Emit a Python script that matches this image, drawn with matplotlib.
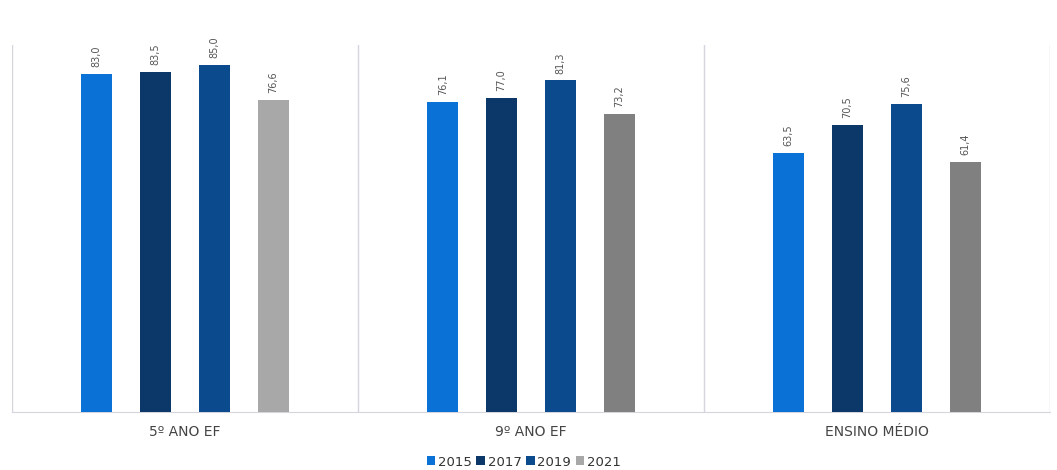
import numpy as np
import matplotlib.pyplot as plt

categories = ["5º ANO EF", "9º ANO EF", "ENSINO MÉDIO"]
years = ["2015", "2017", "2019", "2021"]
v2015 = [83.0, 76.1, 63.5]
v2017 = [83.5, 77.0, 70.5]
v2019 = [85.0, 81.3, 75.6]
v2021 = [76.6, 73.2, 61.4]
series = [v2015, v2017, v2019, v2021]

colors = ["#0a72d6", "#0b3868", "#0c4a8e", "#808080"]
gray_first = "#a8a8a8"

fig = plt.figure(figsize=(10.57, 4.70), dpi=100)
ax = fig.add_axes([12 / 1057, 58 / 470, 1038 / 1057, 367 / 470])

x = np.arange(len(categories))
width = 0.09
offsets = np.array([-1.5, -0.5, 0.5, 1.5]) * 0.17

for i, vals in enumerate(series):
    cols = [colors[i]] * len(vals)
    if i == 3:
        cols[0] = gray_first
    bars = ax.bar(x + offsets[i], vals, width, color=cols, label=years[i], zorder=3)
    for b, v in zip(bars, vals):
        ax.annotate(f"{v:.1f}".replace(".", ","),
                    (b.get_x() + b.get_width() / 2, v),
                    xytext=(0, 5), textcoords="offset points",
                    rotation=90, ha="center", va="bottom",
                    fontsize=7, color="#555555")

ax.set_xlim(-0.5, 2.5)
ax.set_ylim(0, 90)
ax.set_yticks([])
ax.set_xticks(x)
ax.set_xticklabels(categories, fontsize=10, color="#444444")
ax.tick_params(axis="x", length=0, pad=9)
for s in ["top", "right", "left"]:
    ax.spines[s].set_visible(False)
ax.spines["bottom"].set_color("#d5d5de")
for xb in [-0.5, 0.5, 1.5, 2.5]:
    ax.axvline(xb, color="#d5d5de", lw=1, zorder=1)

ax.legend(loc="center", bbox_to_anchor=(0.493, -50 / 367), ncol=4,
          frameon=False, fontsize=9.5, handlelength=0.65, handleheight=0.65,
          handletextpad=0.2, columnspacing=0.35, labelcolor="#333333",
          borderpad=0)

plt.savefig("out.png")
